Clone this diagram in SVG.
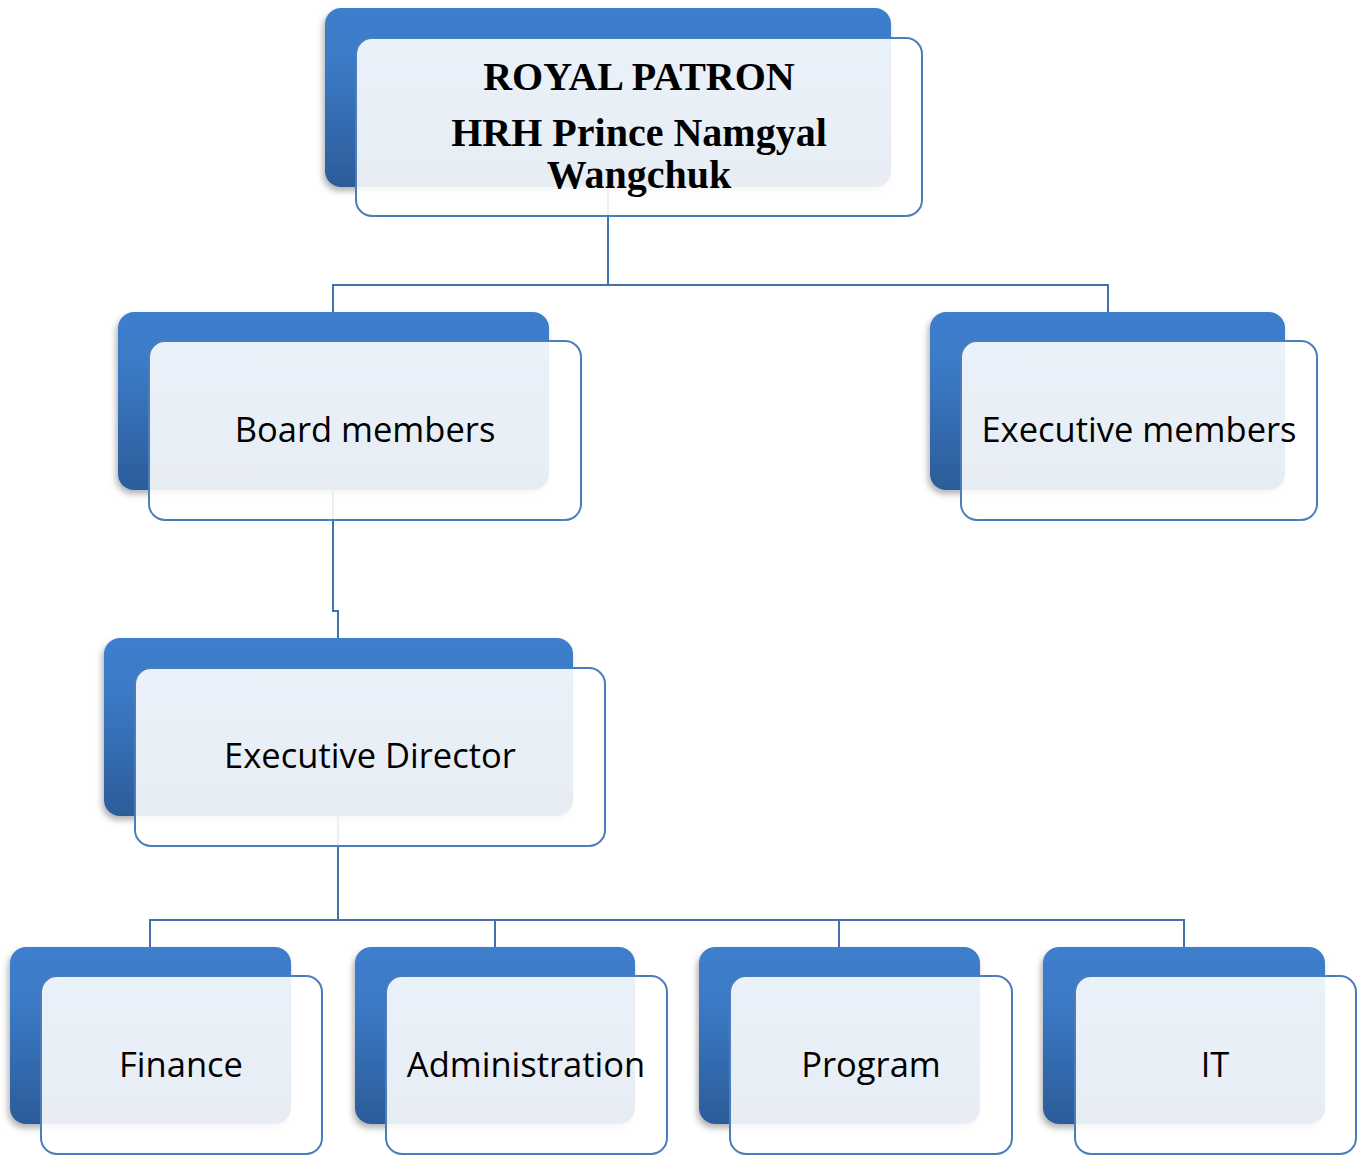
<svg xmlns="http://www.w3.org/2000/svg" width="1363" height="1155" viewBox="0 0 1363 1155">
<style>
.back{fill:url(#bg);filter:url(#sh)}
.front{fill:#ffffff;fill-opacity:0.89;stroke:#4a7ebb;stroke-width:2}
.conn{fill:none;stroke:#4470ad;stroke-width:2}
.lbl{font-family:"Open Sans","Liberation Sans",sans-serif;font-size:34.5px;fill:#000;text-anchor:middle}
.ttl{font-family:"Liberation Serif","Times New Roman",serif;font-weight:bold;font-size:40px;fill:#000;text-anchor:middle}
</style>
<defs>
<linearGradient id="bg" x1="0" y1="0" x2="0" y2="1">
<stop offset="0" stop-color="#3e7ecd"/>
<stop offset="0.3" stop-color="#3b7ac6"/>
<stop offset="1" stop-color="#2c5c99"/>
</linearGradient>
<filter id="sh" x="-10%" y="-10%" width="120%" height="125%">
<feDropShadow dx="-2" dy="4" stdDeviation="3" flood-color="#000" flood-opacity="0.3"/>
</filter>
</defs>
<g id="backs">
<rect class="back" x="325" y="8" width="566" height="179" rx="16"/>
<rect class="back" x="118" y="312" width="431" height="178" rx="16"/>
<rect class="back" x="930" y="312" width="355" height="178" rx="16"/>
<rect class="back" x="104" y="638" width="469" height="178" rx="16"/>
<rect class="back" x="10" y="947" width="281" height="177" rx="16"/>
<rect class="back" x="355" y="947" width="280" height="177" rx="16"/>
<rect class="back" x="699" y="947" width="281" height="177" rx="16"/>
<rect class="back" x="1043" y="947" width="282" height="177" rx="16"/>
</g>
<g id="connectors">
<path class="conn" d="M608,187 V285 M333,312 V285 H1108 V312"/>
<path class="conn" d="M333,490 V611 H338 V638"/>
<path class="conn" d="M338,816 V920 M150,947 V920 H1184 V947 M495,920 V947 M839,920 V947"/>
</g>
<g id="node-patron">
<rect class="front" x="356" y="38" width="566" height="178" rx="16"/>
<text class="ttl" x="639" y="90">ROYAL PATRON</text>
<text class="ttl" x="639" y="146">HRH Prince Namgyal</text>
<text class="ttl" x="639" y="188">Wangchuk</text>
</g>
<g id="node-board">
<rect class="front" x="149" y="341" width="432" height="179" rx="16"/>
<text class="lbl" x="365" y="442">Board members</text>
</g>
<g id="node-exec-members">
<rect class="front" x="961" y="341" width="356" height="179" rx="16"/>
<text class="lbl" x="1139" y="442">Executive members</text>
</g>
<g id="node-director">
<rect class="front" x="135" y="668" width="470" height="178" rx="16"/>
<text class="lbl" x="370" y="768">Executive Director</text>
</g>
<g id="node-finance">
<rect class="front" x="41" y="976" width="281" height="178" rx="16"/>
<text class="lbl" x="181" y="1077">Finance</text>
</g>
<g id="node-admin">
<rect class="front" x="386" y="976" width="281" height="178" rx="16"/>
<text class="lbl" x="526" y="1077">Administration</text>
</g>
<g id="node-program">
<rect class="front" x="730" y="976" width="282" height="178" rx="16"/>
<text class="lbl" x="871" y="1077">Program</text>
</g>
<g id="node-it">
<rect class="front" x="1075" y="976" width="281" height="178" rx="16"/>
<text class="lbl" x="1215" y="1077">IT</text>
</g>
</svg>
